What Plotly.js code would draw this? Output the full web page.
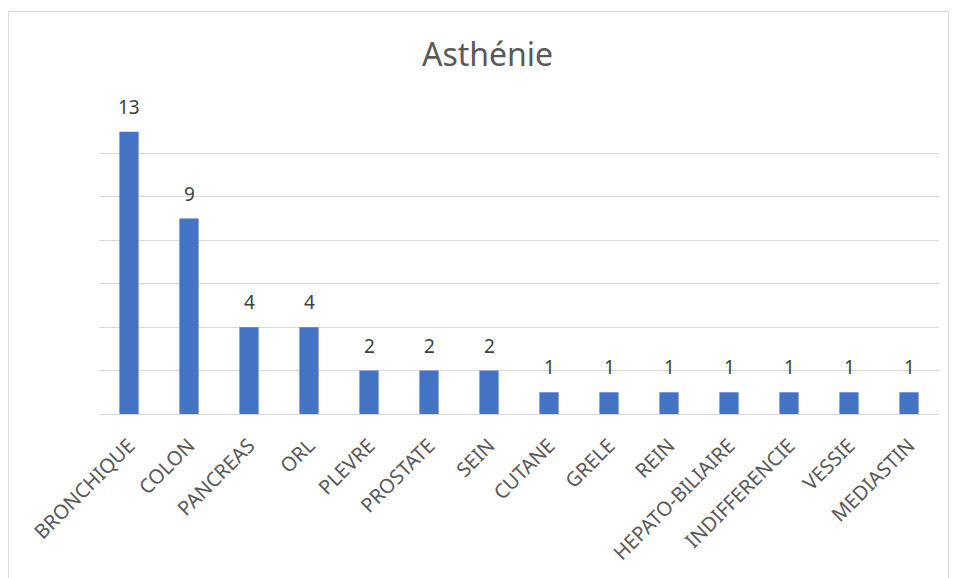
<!DOCTYPE html>
<html><head><meta charset="utf-8">
<script src="https://cdn.plot.ly/plotly-3.0.1.min.js"></script>
<style>body{margin:0;background:#fff}#frame{position:absolute;left:8px;top:11px;width:939px;height:580px;border:1px solid #d9d9d9;pointer-events:none}#chart{position:absolute;left:0;top:0;width:956px;height:578px}</style>
</head><body><div id="chart"></div><div id="frame"></div>
<script>
const categories = ["BRONCHIQUE","COLON","PANCREAS","ORL","PLEVRE","PROSTATE","SEIN","CUTANE","GRELE","REIN","HEPATO-BILIAIRE","INDIFFERENCIE","VESSIE","MEDIASTIN"];
const values = [13,9,4,4,2,2,2,1,1,1,1,1,1,1];
const title = "Asthénie";
const font = "Noto Sans, sans-serif";
const annotations = categories.map((c,i)=>({x:c,y:values[i],text:String(values[i]),showarrow:false,yanchor:'bottom',yshift:10,font:{family:font,size:19,color:'#404040'}}));
Plotly.newPlot('chart',[{type:'bar',x:categories,y:values,marker:{color:'#4472c4'},hoverinfo:'none'}],{
  width:956,height:578,
  margin:{l:99,r:17,t:110,b:164},
  paper_bgcolor:'#fff',plot_bgcolor:'#fff',
  title:{text:title,x:0.51,xanchor:'center',y:0.905,yanchor:'middle',font:{family:font,size:32,color:'#595959'}},
  bargap:0.68,
  xaxis:{tickangle:-45,tickfont:{family:font,size:20,color:'#595959'},ticklabelstandoff:11,showline:true,linecolor:'#d9d9d9',linewidth:1,ticks:'',showgrid:false},
  yaxis:{range:[0,14],dtick:2,showticklabels:false,gridcolor:'#d9d9d9',gridwidth:1,zeroline:false,fixedrange:true},
  annotations:annotations,
  showlegend:false
},{staticPlot:true});
</script></body></html>
